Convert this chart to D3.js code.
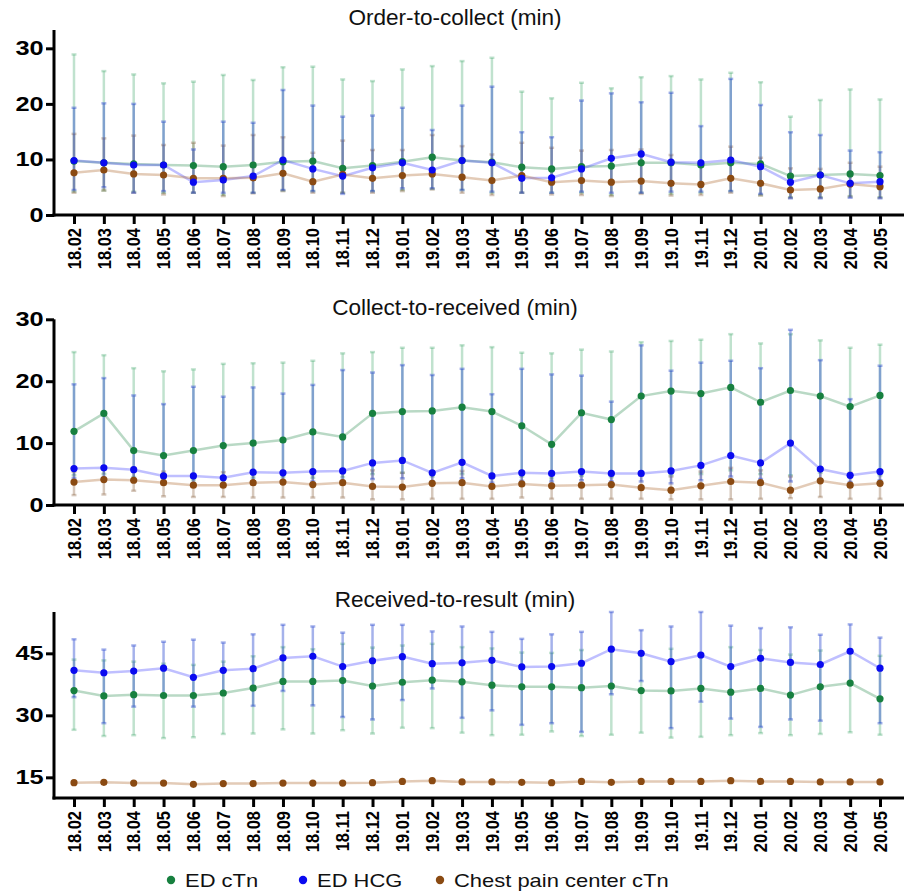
<!DOCTYPE html>
<html><head><meta charset="utf-8">
<script src="https://cdn.jsdelivr.net/npm/d3@7"></script>
<style>body{margin:0;background:#fff} svg{display:block}</style>
</head><body>
<svg id="c" width="906" height="894"></svg>
<script>
// ---------- DATA ----------
const categories = ["18.02","18.03","18.04","18.05","18.06","18.07","18.08","18.09","18.10","18.11","18.12",
  "19.01","19.02","19.03","19.04","19.05","19.06","19.07","19.08","19.09","19.10","19.11","19.12",
  "20.01","20.02","20.03","20.04","20.05"];
const seriesNames = ["ED cTn","ED HCG","Chest pain center cTn"];
const panelTitles = ["Order-to-collect (min)","Collect-to-received (min)","Received-to-result (min)"];
const panelTicks = [[0,10,20,30],[0,10,20,30],[15,30,45]];
const panelDomains = [[0,33.3],[0,30],[10,55]];

// Panel 1: Order-to-collect
const otcGreenMean = [9.7,9.4,9.2,9.0,8.9,8.7,9.0,9.6,9.7,8.4,8.9,9.6,10.4,9.8,9.5,8.6,8.3,8.7,8.8,9.4,9.4,9.0,9.4,9.2,7.0,7.2,7.4,7.1];
const otcGreenHi   = [28.9,25.9,25.3,23.7,24.0,25.2,24.3,26.6,26.7,24.4,24.1,26.2,26.8,27.7,28.3,22.2,21.0,23.8,22.8,24.8,25.0,24.4,25.6,23.9,17.7,20.7,22.6,20.8];
const otcGreenLo   = [4.2,4.4,4.2,4.0,4.0,3.6,4.0,4.4,4.3,4.0,4.3,4.5,4.7,4.5,4.0,4.0,4.0,4.0,3.6,4.0,3.8,4.0,4.3,3.6,3.2,3.2,3.4,3.2];
const otcBlueMean  = [9.8,9.4,9.0,9.0,5.9,6.3,7.0,9.9,8.3,7.0,8.5,9.4,8.1,9.8,9.4,6.6,6.7,8.3,10.2,11.0,9.5,9.4,9.9,8.7,5.9,7.2,5.7,6.0];
const otcBlueHi    = [19.3,20.1,20.0,16.8,11.8,16.8,16.6,22.5,19.7,17.7,17.9,19.3,15.3,19.7,23.1,14.9,14.0,20.6,21.9,20.3,22.0,16.0,24.5,19.8,14.9,14.4,11.6,11.3];
const otcBlueLo    = [4.5,5.0,4.0,4.3,4.0,4.0,4.0,4.5,4.3,3.8,4.3,4.8,4.8,4.5,4.2,4.0,4.0,4.2,4.0,4.0,4.2,4.2,4.3,3.8,3.0,3.0,3.1,3.0];
const otcBrownMean = [7.6,8.1,7.4,7.2,6.6,6.6,6.7,7.5,6.0,7.3,6.6,7.1,7.4,6.8,6.2,7.1,5.9,6.2,5.9,6.1,5.7,5.5,6.6,5.7,4.5,4.7,5.6,5.1];
const otcBrownHi   = [14.6,13.8,14.3,12.6,13.0,12.5,14.4,14.0,11.2,13.4,11.7,11.7,14.4,12.4,10.9,13.0,12.1,11.6,11.7,11.8,10.8,9.5,12.3,10.3,8.4,8.3,9.4,8.7];
const otcBrownLo   = [4.0,4.4,4.0,3.7,4.0,3.4,3.9,4.3,4.0,4.0,4.0,4.3,4.6,4.0,3.6,4.0,3.7,3.6,3.4,3.8,3.5,3.6,4.0,3.5,3.1,3.1,3.3,3.1];

// Panel 2: Collect-to-received
const ctrGreenMean = [11.9,14.8,8.8,8.0,8.8,9.6,10.0,10.5,11.8,11.0,14.8,15.1,15.2,15.8,15.1,12.8,9.8,14.9,13.8,17.6,18.4,18.0,19.0,16.6,18.5,17.6,15.9,17.7];
const ctrGreenHi   = [24.7,24.2,22.1,21.6,21.9,22.8,22.9,23.0,23.3,24.5,24.7,25.4,25.4,25.8,25.5,24.6,24.5,25.1,24.8,26.3,26.5,26.7,27.6,26.1,27.6,26.6,25.4,25.9];
const ctrGreenLo   = [4.8,5.0,4.5,4.2,4.0,4.0,4.4,4.5,4.4,4.5,5.0,5.2,4.6,5.0,4.3,4.6,4.3,4.7,4.5,4.8,4.8,5.0,5.6,5.0,4.8,5.2,4.5,4.8];
const ctrBlueMean  = [5.9,6.0,5.7,4.7,4.7,4.4,5.3,5.2,5.4,5.5,6.8,7.2,5.2,6.9,4.7,5.2,5.1,5.4,5.1,5.1,5.5,6.4,8.0,6.8,10.0,5.8,4.8,5.4];
const ctrBlueHi    = [19.5,20.5,17.7,16.3,19.1,17.5,19.0,18.0,19.4,21.8,21.4,22.6,21.0,22.0,17.9,22.0,21.1,20.9,16.7,25.8,21.7,23.0,23.3,22.1,28.3,23.4,17.1,22.5];
const ctrBlueLo    = [4.3,4.4,3.8,3.6,3.5,3.4,3.8,3.8,3.8,3.9,4.2,4.3,3.8,4.3,3.6,3.9,3.8,4.0,3.8,3.8,3.5,4.0,4.6,4.2,3.8,4.1,3.7,4.0];
const ctrBrownMean = [3.7,4.1,4.0,3.6,3.2,3.2,3.6,3.7,3.3,3.6,3.0,2.9,3.5,3.6,3.0,3.4,3.1,3.2,3.3,2.8,2.4,3.1,3.8,3.6,2.4,3.9,3.2,3.5];
const ctrBrownHi   = [5.4,5.8,6.0,5.4,5.0,5.3,5.4,5.5,5.0,5.4,5.6,5.2,5.4,5.5,5.0,5.4,5.0,5.4,5.3,4.8,4.6,5.4,6.0,5.6,4.6,6.0,5.2,5.4];
const ctrBrownLo   = [1.6,1.7,2.3,1.4,1.3,1.3,1.2,1.2,1.2,1.2,0.9,0.9,1.0,1.0,1.0,1.2,1.0,1.0,1.0,1.0,0.9,0.9,0.9,1.0,1.1,1.3,1.0,1.0];

// Panel 3: Received-to-result
const rtrGreenMean = [36.0,34.7,35.0,34.8,34.8,35.4,36.6,38.2,38.2,38.4,37.1,38.0,38.5,38.1,37.3,36.9,36.9,36.7,37.1,36.0,35.9,36.5,35.6,36.5,34.9,36.9,37.8,34.0];
const rtrGreenHi   = [43.5,43.3,43.0,42.5,42.2,43.0,44.3,46.5,46.0,47.3,46.4,46.9,47.3,46.5,46.2,45.2,45.1,45.8,45.5,44.5,46.1,45.0,46.5,45.8,44.7,45.7,46.0,44.4];
const rtrGreenLo   = [26.5,25.0,25.2,24.5,24.7,25.5,25.6,26.6,25.6,26.4,25.6,27.0,26.9,25.8,25.2,25.3,26.1,25.0,25.3,25.8,24.6,24.8,25.2,25.7,25.2,25.5,25.9,25.3];
const rtrBlueMean  = [40.9,40.3,40.7,41.4,39.2,40.9,41.3,43.9,44.3,41.8,43.2,44.2,42.5,42.7,43.3,41.7,41.8,42.6,46.0,45.0,43.0,44.6,41.8,43.8,42.8,42.3,45.5,41.4];
const rtrBlueHi    = [48.4,45.9,46.9,47.8,48.3,47.6,49.6,51.9,51.5,50.0,51.9,51.9,50.3,51.5,50.2,48.5,49.6,50.2,55.0,50.6,51.5,55.0,51.7,51.1,51.3,49.5,52.0,48.8];
const rtrBlueLo    = [34.4,28.1,32.1,35.1,32.1,35.0,32.3,35.9,32.4,29.6,29.0,33.7,36.5,29.4,31.2,27.7,28.1,26.0,35.1,38.3,26.9,33.3,29.2,27.2,29.0,28.7,38.0,28.1];
const rtrBrownMean = [13.7,13.8,13.6,13.6,13.3,13.5,13.5,13.6,13.6,13.6,13.7,14.0,14.2,13.9,13.9,13.8,13.7,14.0,13.8,14.0,14.0,14.0,14.2,14.0,14.0,13.9,13.9,13.9];

// ---------- STYLE ----------
const FONT = "Arial, 'Liberation Sans', Helvetica, sans-serif";
const styles = [
  {dot:"#17803f", line:"#17803f", lineOp:0.3, err:"#2f9e5e", errOp:0.3},
  {dot:"#0a0af0", line:"#2a2aff", lineOp:0.3, err:"#2848d0", errOp:0.42},
  {dot:"#8a4a12", line:"#b06a30", lineOp:0.35, err:"#8a6040", errOp:0.35}
];
const layouts = [
  {top:30, bottom:215, titleY:25},
  {top:319.3, bottom:505, titleY:315},
  {top:612, bottom:798, titleY:607}
];
const panelData = [
  [{m:otcGreenMean,hi:otcGreenHi,lo:otcGreenLo},{m:otcBlueMean,hi:otcBlueHi,lo:otcBlueLo},{m:otcBrownMean,hi:otcBrownHi,lo:otcBrownLo}],
  [{m:ctrGreenMean,hi:ctrGreenHi,lo:ctrGreenLo},{m:ctrBlueMean,hi:ctrBlueHi,lo:ctrBlueLo},{m:ctrBrownMean,hi:ctrBrownHi,lo:ctrBrownLo}],
  [{m:rtrGreenMean,hi:rtrGreenHi,lo:rtrGreenLo},{m:rtrBlueMean,hi:rtrBlueHi,lo:rtrBlueLo},{m:rtrBrownMean,hi:null,lo:null}]
];

const svg = d3.select("#c");
const axisX0 = 54, axisX1 = 904;
const x = d3.scalePoint().domain(categories).range([74, 880]);

panelTitles.forEach((title, p) => {
  const L = layouts[p];
  const dom = panelDomains[p];
  const y = d3.scaleLinear().domain(dom).range([L.bottom, L.top]);
  const g = svg.append("g");

  // title
  g.append("text").attr("transform", `translate(455,${L.titleY}) scale(1.05,1)`).attr("text-anchor","middle")
    .style("font-family", FONT).style("font-size","21.5px").style("fill","#111").text(title);

  const data = panelData[p];
  const drawOrder = [0,2,1];
  // error bars
  drawOrder.forEach(si => {
    const s = data[si], st = styles[si];
    if (!s.hi) return;
    const eg = g.append("g").attr("stroke", st.err).attr("stroke-opacity", st.errOp).attr("stroke-width", 2.5).attr("fill","none");
    categories.forEach((c, i) => {
      const cx = x(c);
      const yh = y(s.hi[i]), yl = y(s.lo[i]);
      eg.append("line").attr("x1",cx).attr("x2",cx).attr("y1",yh).attr("y2",yl);
      eg.append("line").attr("x1",cx-2.5).attr("x2",cx+2.5).attr("y1",yh).attr("y2",yh);
      eg.append("line").attr("x1",cx-2.5).attr("x2",cx+2.5).attr("y1",yl).attr("y2",yl);
    });
  });
  // lines
  [0,1,2].forEach(si => {
    const s = data[si], st = styles[si];
    const line = d3.line().x((d,i) => x(categories[i])).y(d => y(d));
    g.append("path").datum(s.m).attr("d", line).attr("fill","none")
      .attr("stroke", st.line).attr("stroke-opacity", st.lineOp).attr("stroke-width", 2.5);
  });
  // dots
  [0,2,1].forEach(si => {
    const s = data[si], st = styles[si];
    g.append("g").selectAll("circle").data(s.m).join("circle")
      .attr("cx",(d,i)=>x(categories[i])).attr("cy",d=>y(d)).attr("r",3.6).attr("fill",st.dot);
  });

  // y axis
  const ya = g.append("g").attr("transform",`translate(${axisX0},0)`)
    .call(d3.axisLeft(y).tickValues(panelTicks[p]).tickSize(8).tickPadding(0).tickFormat(d3.format("d")));
  ya.select(".domain").remove();
  ya.selectAll(".tick line").attr("stroke","#000").attr("stroke-width",3);
  ya.selectAll(".tick text").attr("transform","scale(1.3,1)")
    .style("font-family",FONT).style("font-weight","bold").style("font-size","19.5px").attr("fill","#000");
  g.append("line").attr("x1",axisX0).attr("x2",axisX0).attr("y1",L.top).attr("y2",L.bottom+1.5)
    .attr("stroke","#000").attr("stroke-width",3);

  // x axis
  const xa = g.append("g").attr("transform",`translate(0,${L.bottom})`)
    .call(d3.axisBottom(x).tickSize(9).tickFormat(""));
  xa.select(".domain").remove();
  xa.selectAll(".tick line").attr("stroke","#000").attr("stroke-width",3);
  g.append("line").attr("x1",axisX0-1.5).attr("x2",axisX1).attr("y1",L.bottom).attr("y2",L.bottom)
    .attr("stroke","#000").attr("stroke-width",3);
  g.append("g").selectAll("text").data(categories).join("text")
    .attr("transform", d => `translate(${x(d)},${L.bottom+13}) rotate(-90) scale(1,1.12)`)
    .attr("text-anchor","end").attr("dy","0.36em")
    .style("font-family",FONT).style("font-weight","bold").style("font-size","16.5px").attr("fill","#000")
    .text(d => d);
});

// legend
const legendX = [171, 303, 440];
const lg = svg.append("g");
seriesNames.forEach((n, i) => {
  lg.append("circle").attr("cx", legendX[i]).attr("cy", 880).attr("r", 4.2).attr("fill", styles[i].dot);
  lg.append("text").attr("transform", `translate(${legendX[i]+14},886.5) scale(1.22,1)`)
    .style("font-family", FONT).style("font-size","18px").attr("fill","#111").text(n);
});
</script>
</body></html>
